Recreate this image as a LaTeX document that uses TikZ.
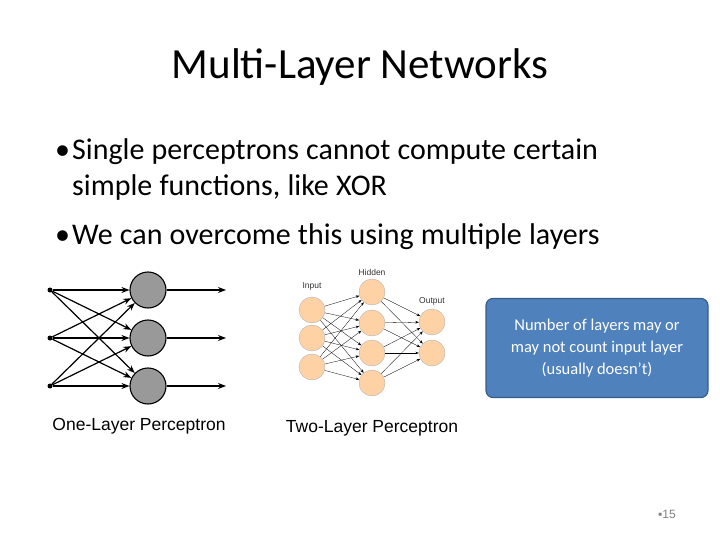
\documentclass[tikz,border=0pt]{standalone}
\usepackage{fontspec}
\setmainfont{Carlito}
\newfontfamily\arial{Liberation Sans}
\usetikzlibrary{arrows.meta}
\begin{document}
\begin{tikzpicture}[x=1pt,y=-1pt,
 gray/.style={circle,draw,fill=gray!80,minimum size=36pt,inner sep=0,line width=1.1pt},
 orng/.style={circle,draw=gray!60,fill=orange!35!white,minimum size=26pt,inner sep=0},
 inpt/.style={circle,fill=black,minimum size=5pt,inner sep=0},
 thk/.style={-{Stealth[length=8pt,width=6pt]},line width=1.2pt},
 thn/.style={-{Stealth[length=3.5pt]},line width=0.3pt},
 lbl/.style={font=\arial\fontsize{8.5}{9}\selectfont,text=black!80}]
\useasboundingbox (0,0) rectangle (720,540);
\node (title) at (360,67) {\fontsize{43}{50}\selectfont Multi-Layer Networks};
\node[anchor=north west,text width=640pt,align=left,inner sep=0] (bul) at (55,138)
 {\fontsize{30}{36}\selectfont\raggedright\spaceskip=0.24em plus 0.1em
 \hangindent=17pt\hangafter=1\makebox[17pt][l]{•}Single perceptrons cannot compute certain\newline simple functions, like XOR\par\vspace{13pt}
 \hangindent=17pt\makebox[17pt][l]{•}We can overcome this using multiple layers\par};
% one-layer
\foreach \i/\y in {1/290,2/338,3/386}{
 \node[inpt] (i\i) at (50,\y) {};
 \node[gray] (g\i) at (148,\y) {};
 \coordinate (o\i) at (226,\y);
 \draw[thk] (g\i) -- (o\i);}
\foreach \i in {1,2,3}{\foreach \j in {1,2,3}{\draw[thk] (i\i) -- (g\j);}}
\node[font=\arial\fontsize{17.5}{20}\selectfont] (c1) at (139,426) {One-Layer Perceptron};
% two-layer
\foreach \i/\y in {1/310,2/338,3/367}{\node[orng] (a\i) at (312,\y) {};}
\foreach \i/\y in {1/292,2/323,3/353,4/383}{\node[orng] (h\i) at (372,\y) {};}
\foreach \i/\y in {1/322,2/353}{\node[orng] (b\i) at (432,\y) {};}
\foreach \i in {1,2,3}{\foreach \j in {1,2,3,4}{\draw[thn] (a\i) -- (h\j);}}
\foreach \i in {1,2,3,4}{\foreach \j in {1,2}{\draw[thn] (h\i) -- (b\j);}}
\node[lbl] (li) at (312,286) {Input};
\node[lbl] (lh) at (372,272) {Hidden};
\node[lbl] (lo) at (432,301) {Output};
\node[font=\arial\fontsize{17.5}{20}\selectfont] (c2) at (372,428) {Two-Layer Perceptron};
% callout
\node[draw={rgb,255:red,56;green,93;blue,138},line width=1.2pt,fill={rgb,255:red,79;green,129;blue,189},rounded corners=7pt,
 minimum width=222pt,minimum height=99pt,text=white,align=center,
 font=\fontsize{16.5}{22}\selectfont] (call) at (597,348)
 {Number of layers may or\\may not count input layer\\(usually doesn't)};
\node[font=\arial\fontsize{12}{13}\selectfont,text=gray] (pg) at (667,514) {▪15};
\end{tikzpicture}
\end{document}
